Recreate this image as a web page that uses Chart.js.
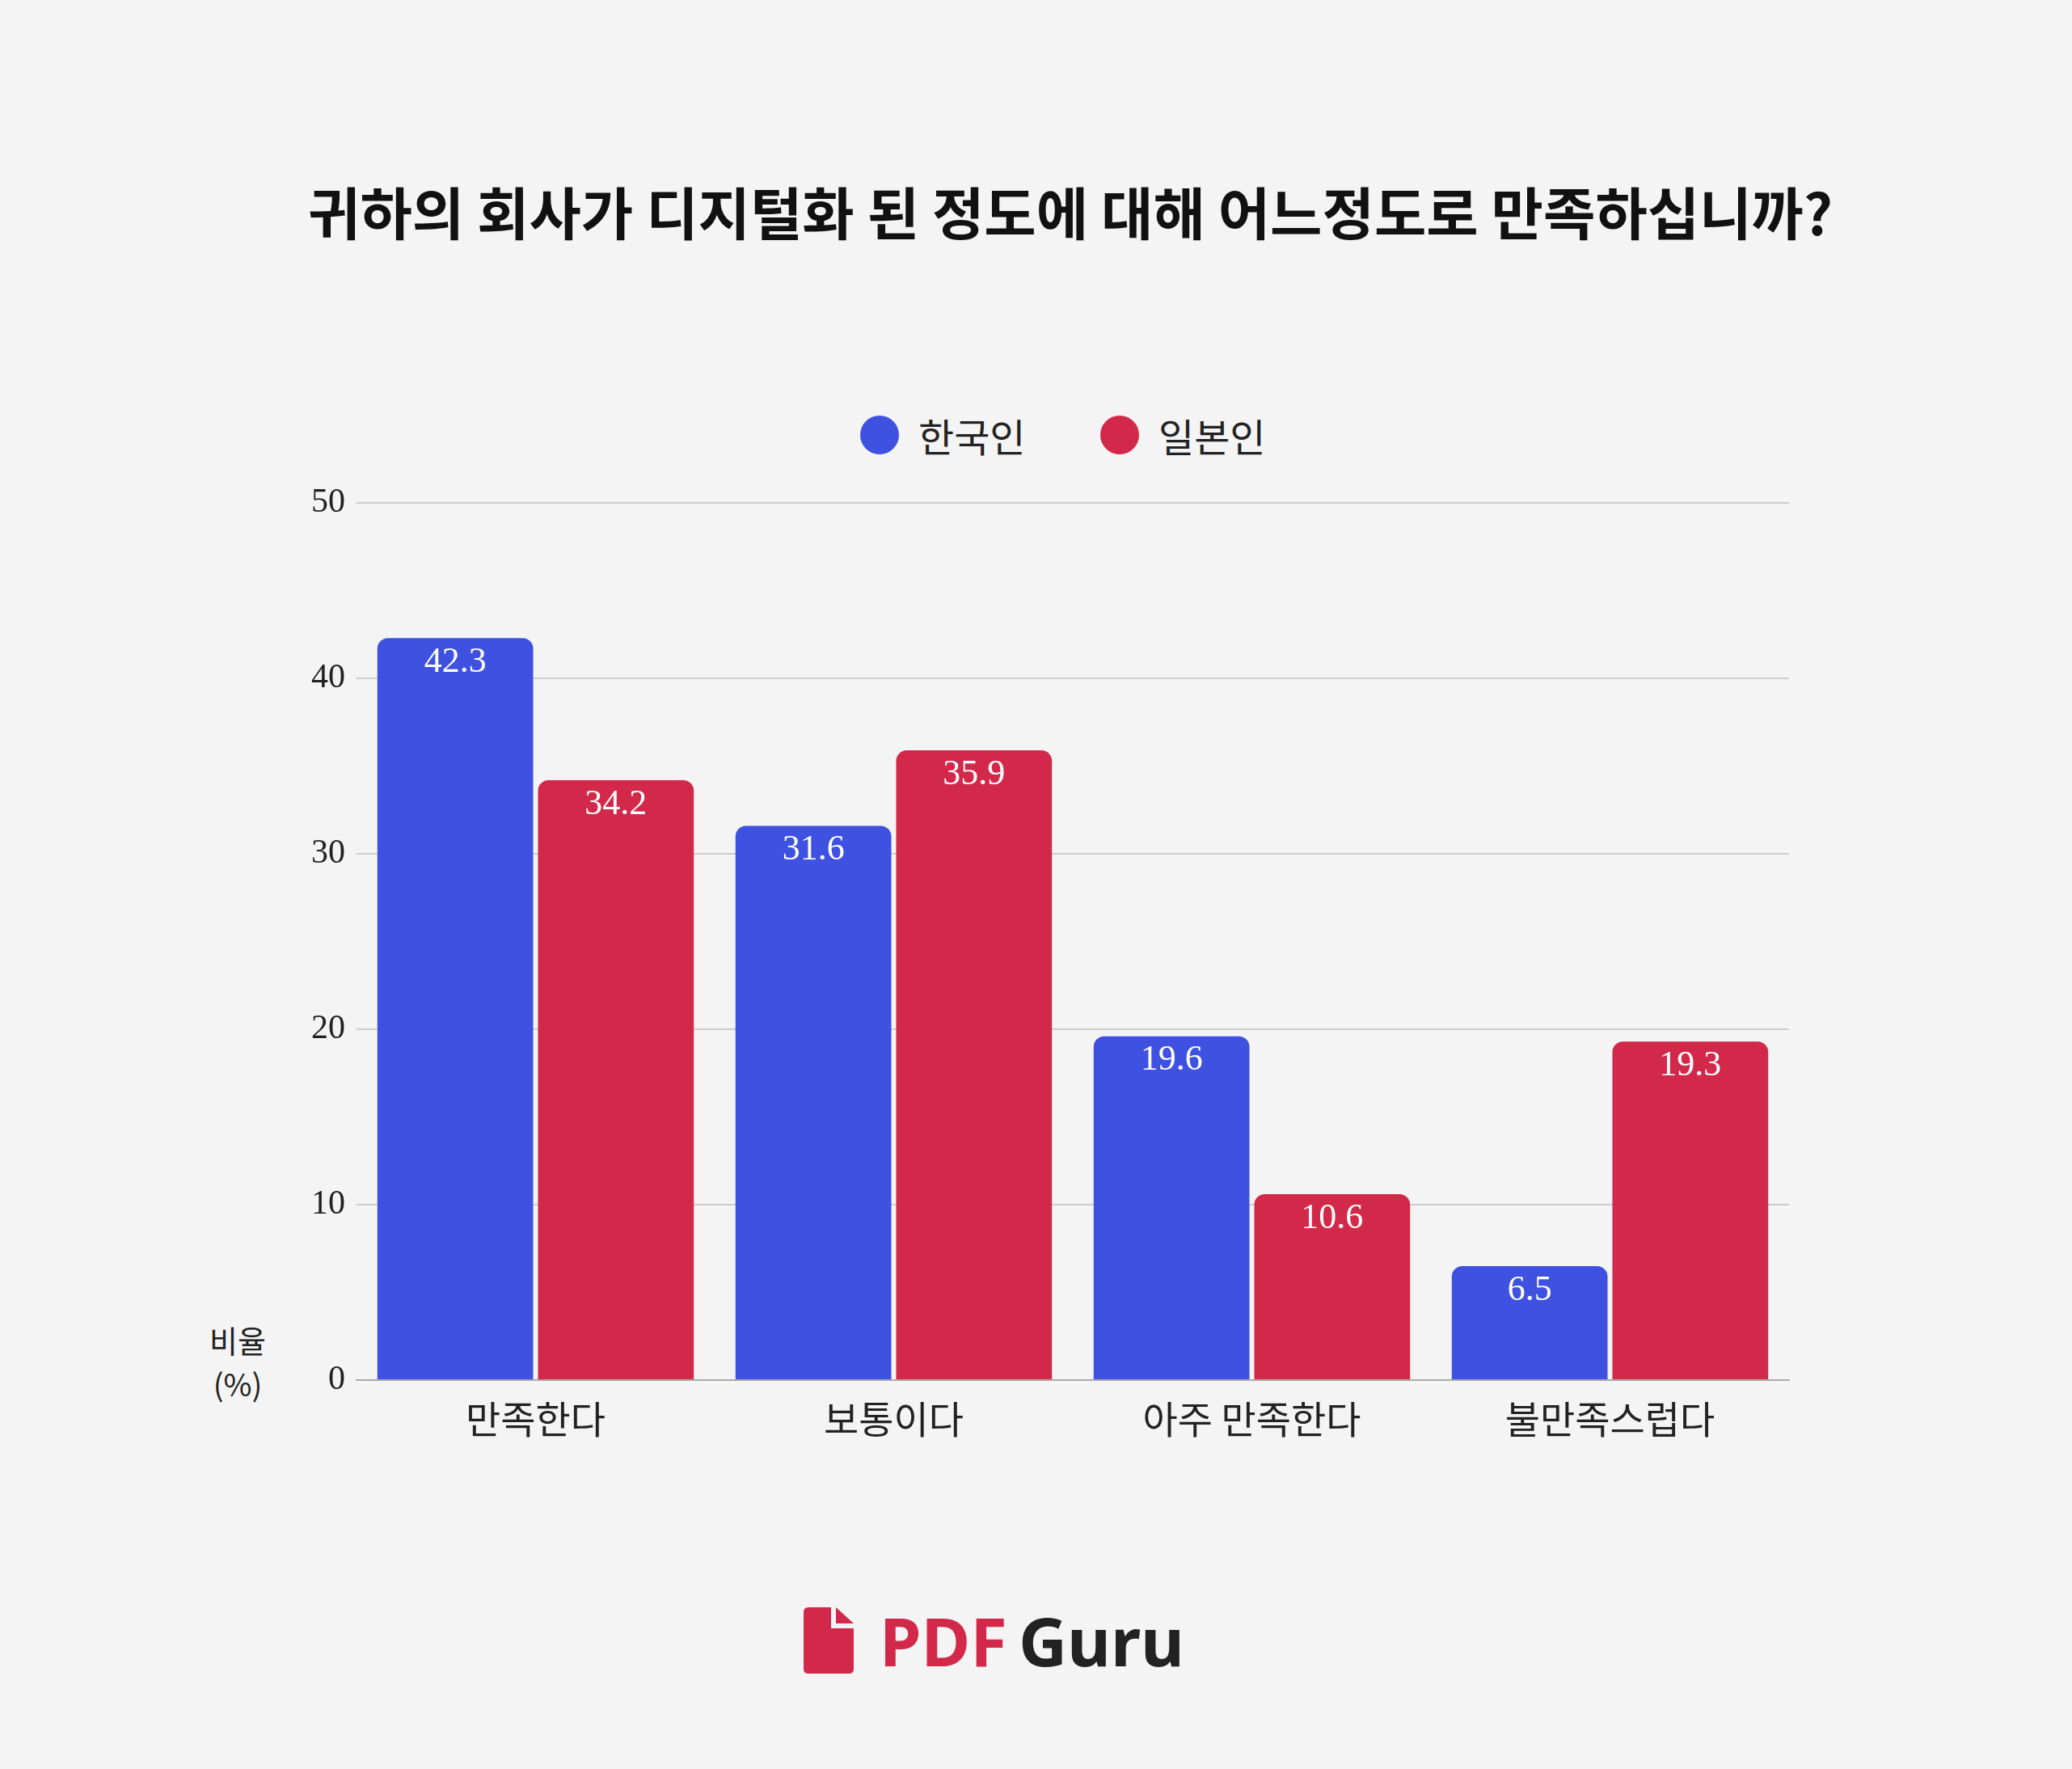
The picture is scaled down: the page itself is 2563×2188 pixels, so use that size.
<!DOCTYPE html>
<html><head><meta charset="utf-8">
<script src="https://cdn.jsdelivr.net/npm/chart.js@4/dist/chart.umd.min.js"></script>
<style>
body{margin:0;width:2563px;height:2188px;background:#f4f4f4;position:relative;overflow:hidden;font-family:"Noto Sans CJK KR","Noto Sans",sans-serif}
.abs{position:absolute}
#title{top:210px;left:0;width:2648px;text-align:center;font-size:70px;font-weight:700;color:#111}
.leg{top:503px;font-size:48px;color:#222;display:flex;align-items:center}
.dot{width:48px;height:48px;border-radius:50%;margin-right:24px}
#ytitle{left:234px;top:1630px;width:120px;text-align:center;font-size:38px;line-height:54px;color:#222}
#logo{top:1972px;left:994px;display:flex;align-items:center;font-family:"Noto Sans",sans-serif;font-weight:700;font-size:83px}
#wrap{left:0;top:583px;width:2563px;height:1224px}
</style></head><body>
<div id="title" class="abs">귀하의 회사가 디지털화 된 정도에 대해 어느정도로 만족하십니까?</div>
<div class="abs leg" style="left:1064px"><div class="dot" style="background:#3f51e0"></div>한국인</div>
<div class="abs leg" style="left:1361px"><div class="dot" style="background:#d2294a"></div>일본인</div>
<div id="ytitle" class="abs">비율<br>(%)</div>
<div id="logo" class="abs">
<svg width="64" height="82" viewBox="0 0 64 82" style="margin-right:30px"><path d="M6 0H34V26H62V76Q62 82 56 82H6Q0 82 0 76V6Q0 0 6 0Z" fill="#d2294a"/><path d="M40 0L62 20H40Z" fill="#d2294a"/></svg>
<span style="color:#d2294a">PDF</span><span style="color:#222;margin-left:14px">Guru</span></div>
<div id="wrap" class="abs"><canvas id="c"></canvas></div>
<script>
const categories = ['만족한다', '보통이다', '아주 만족한다', '불만족스럽다'];
const korea = [42.3, 31.6, 19.6, 6.5];
const japan = [34.2, 35.9, 10.6, 19.3];
const yTicks = [0, 10, 20, 30, 40, 50];

const labelPlugin = {
    id: 'vals',
    afterDatasetsDraw(chart) {
        const ctx = chart.ctx;
        ctx.save();
        ctx.fillStyle = '#fff';
        ctx.font = '44px "Liberation Serif"';
        ctx.textAlign = 'center';
        ctx.textBaseline = 'top';
        chart.data.datasets.forEach((ds, i) => {
            chart.getDatasetMeta(i).data.forEach((bar, j) => {
                ctx.fillText(ds.data[j].toFixed(1), bar.x, bar.y + 8);
            });
        });
        ctx.restore();
    }
};

new Chart(document.getElementById('c'), {
    type: 'bar',
    data: {
        labels: categories,
        datasets: [
            { label: '한국인', data: korea, backgroundColor: '#3f51e0', borderRadius: {topLeft: 13, topRight: 13}, borderSkipped: 'bottom' },
            { label: '일본인', data: japan, backgroundColor: '#d2294a', borderRadius: {topLeft: 13, topRight: 13}, borderSkipped: 'bottom' }
        ]
    },
    options: {
        responsive: true, maintainAspectRatio: false, animation: false,
        layout: { padding: { top: 21, right: 350, left: 0, bottom: 0 } },
        categoryPercentage: 0.897, barPercentage: 0.97,
        plugins: { legend: { display: false }, tooltip: { enabled: false } },
        scales: {
            x: {
                afterFit(s) { s.height = 100; },
                grid: { display: false },
                border: { color: '#aaa', width: 2 },
                ticks: { color: '#222', font: { size: 47, family: '"Noto Sans CJK KR"' }, padding: 12 }
            },
            y: {
                min: 0, max: 50,
                afterFit(s) { s.width = 441; },
                afterBuildTicks(s) { s.ticks = yTicks.map(v => ({ value: v })); },
                grid: { color: '#cccccc', lineWidth: 2, drawTicks: false },
                border: { display: false },
                ticks: { color: '#222', font: { size: 42, family: '"Liberation Serif"' }, padding: 14 }
            }
        }
    },
    plugins: [labelPlugin]
});
</script>
</body></html>
